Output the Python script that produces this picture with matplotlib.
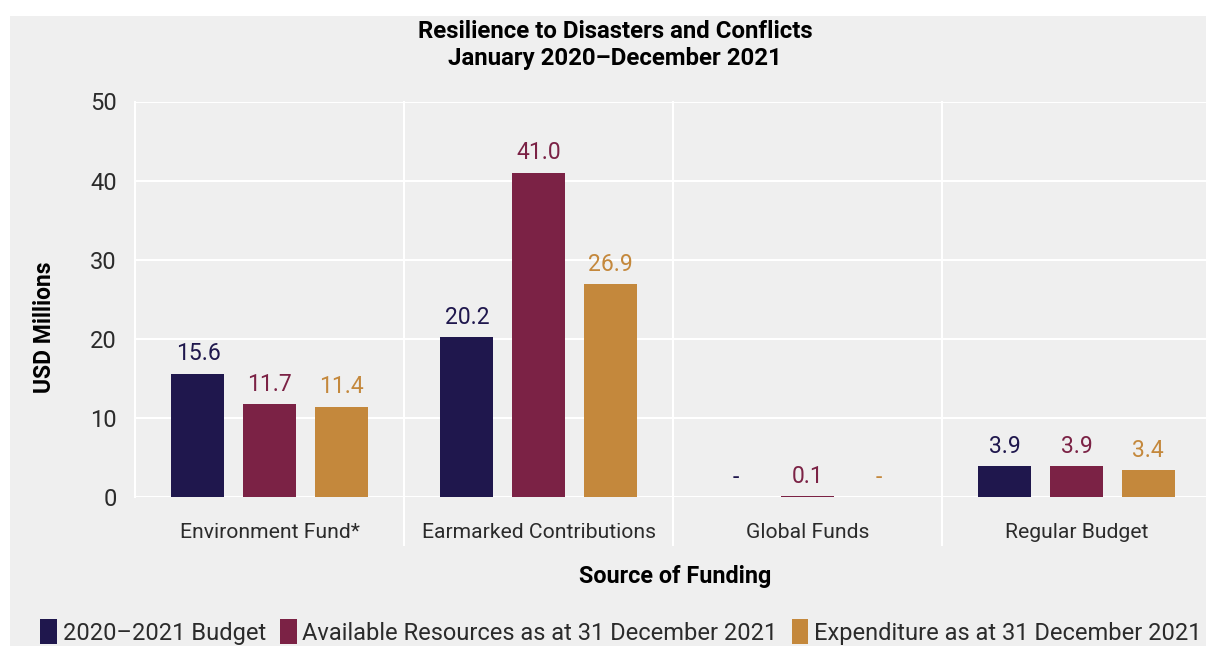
import matplotlib
matplotlib.use("Agg")
import matplotlib.pyplot as plt
from matplotlib.patches import Rectangle, Patch
import numpy as np

categories = ["Environment Fund*", "Earmarked Contributions", "Global Funds", "Regular Budget"]
series_names = ["2020\u20132021 Budget", "Available Resources as at 31 December 2021",
                "Expenditure as at 31 December 2021"]
budget = [15.6, 20.2, 0.0, 3.9]
available = [11.7, 41.0, 0.1, 3.9]
expenditure = [11.4, 26.9, 0.0, 3.4]
budget_labels = ["15.6", "20.2", "-", "3.9"]
available_labels = ["11.7", "41.0", "0.1", "3.9"]
expenditure_labels = ["11.4", "26.9", "-", "3.4"]
yticks = [0, 10, 20, 30, 40, 50]

colors = ["#1f174d", "#7b2245", "#c4883c"]
bg = "#efefef"
txt = "#2b2b2b"

plt.rcParams['font.family'] = ['Roboto', 'DejaVu Sans']

W, H = 1206, 646
fig = plt.figure(figsize=(W / 100, H / 100), dpi=100, facecolor="white")
fig.patches.append(Rectangle((10 / W, 0), 1 - 10 / W, (H - 16) / H, transform=fig.transFigure,
                             facecolor=bg, edgecolor="none", zorder=-10))

ax = fig.add_axes([135 / W, 1 - 497 / H, 1076 / W, (497 - 101.5) / H])
ax.set_facecolor("none")

x = np.arange(len(categories))
offset = 0.266
width = 0.197
series = [budget, available, expenditure]
labels = [budget_labels, available_labels, expenditure_labels]
for i, (vals, labs) in enumerate(zip(series, labels)):
    pos = x + (i - 1) * offset
    ax.bar(pos, vals, width=width, color=colors[i], zorder=3, label=series_names[i])
    for p, v, l in zip(pos, vals, labs):
        ax.annotate(l, (p, v), xytext=(0, 6), textcoords="offset points",
                    ha="center", va="bottom", color=colors[i], fontsize=16.5, zorder=4)

ax.set_xlim(-0.5, len(categories) - 0.5)
ax.set_ylim(0, 50)
ax.set_yticks(yticks)
ax.set_yticklabels([str(t) for t in yticks], fontsize=17, color=txt)
ax.tick_params(axis="y", length=0, pad=13)
ax.set_xticks(x)
ax.set_xticklabels(categories, fontsize=15.2, color=txt)
ax.tick_params(axis="x", length=0, pad=19)

ax.grid(axis="y", color="white", linewidth=1.5, zorder=0)
for s in ["top", "right", "bottom"]:
    ax.spines[s].set_visible(False)
ax.spines["left"].set_color("white")
ax.spines["left"].set_linewidth(1.5)
for b in np.arange(0.5, len(categories) - 0.5, 1.0):
    ax.plot([b, b], [-6.05, 50], color="white", linewidth=1.5, clip_on=False, zorder=1)

fig.text(615 / W, 1 - 32 / H, "Resilience to Disasters and Conflicts", ha="center", va="center",
         fontsize=17.3, fontweight="bold", color="black")
fig.text(615 / W, 1 - 59 / H, "January 2020\u2013December 2021", ha="center", va="center",
         fontsize=17.3, fontweight="bold", color="black")
fig.text(45 / W, 1 - 327 / H, "USD Millions", rotation=90, ha="center", va="center",
         fontsize=16.5, fontweight="bold", color="black")
fig.text(675 / W, 1 - 577 / H, "Source of Funding", ha="center", va="center",
         fontsize=16.8, fontweight="bold", color="black")

handles = [Patch(facecolor=c, edgecolor="none") for c in colors]
fig.legend(handles, series_names, loc="center", bbox_to_anchor=(621 / W, 1 - 632 / H),
           ncol=3, frameon=False, handlelength=0.7, handleheight=1.2,
           handletextpad=0.25, columnspacing=0.6, labelcolor=txt,
           prop={"family": ["Roboto", "DejaVu Sans"], "size": 17})

fig.savefig("out.png", dpi=100, facecolor="white")
